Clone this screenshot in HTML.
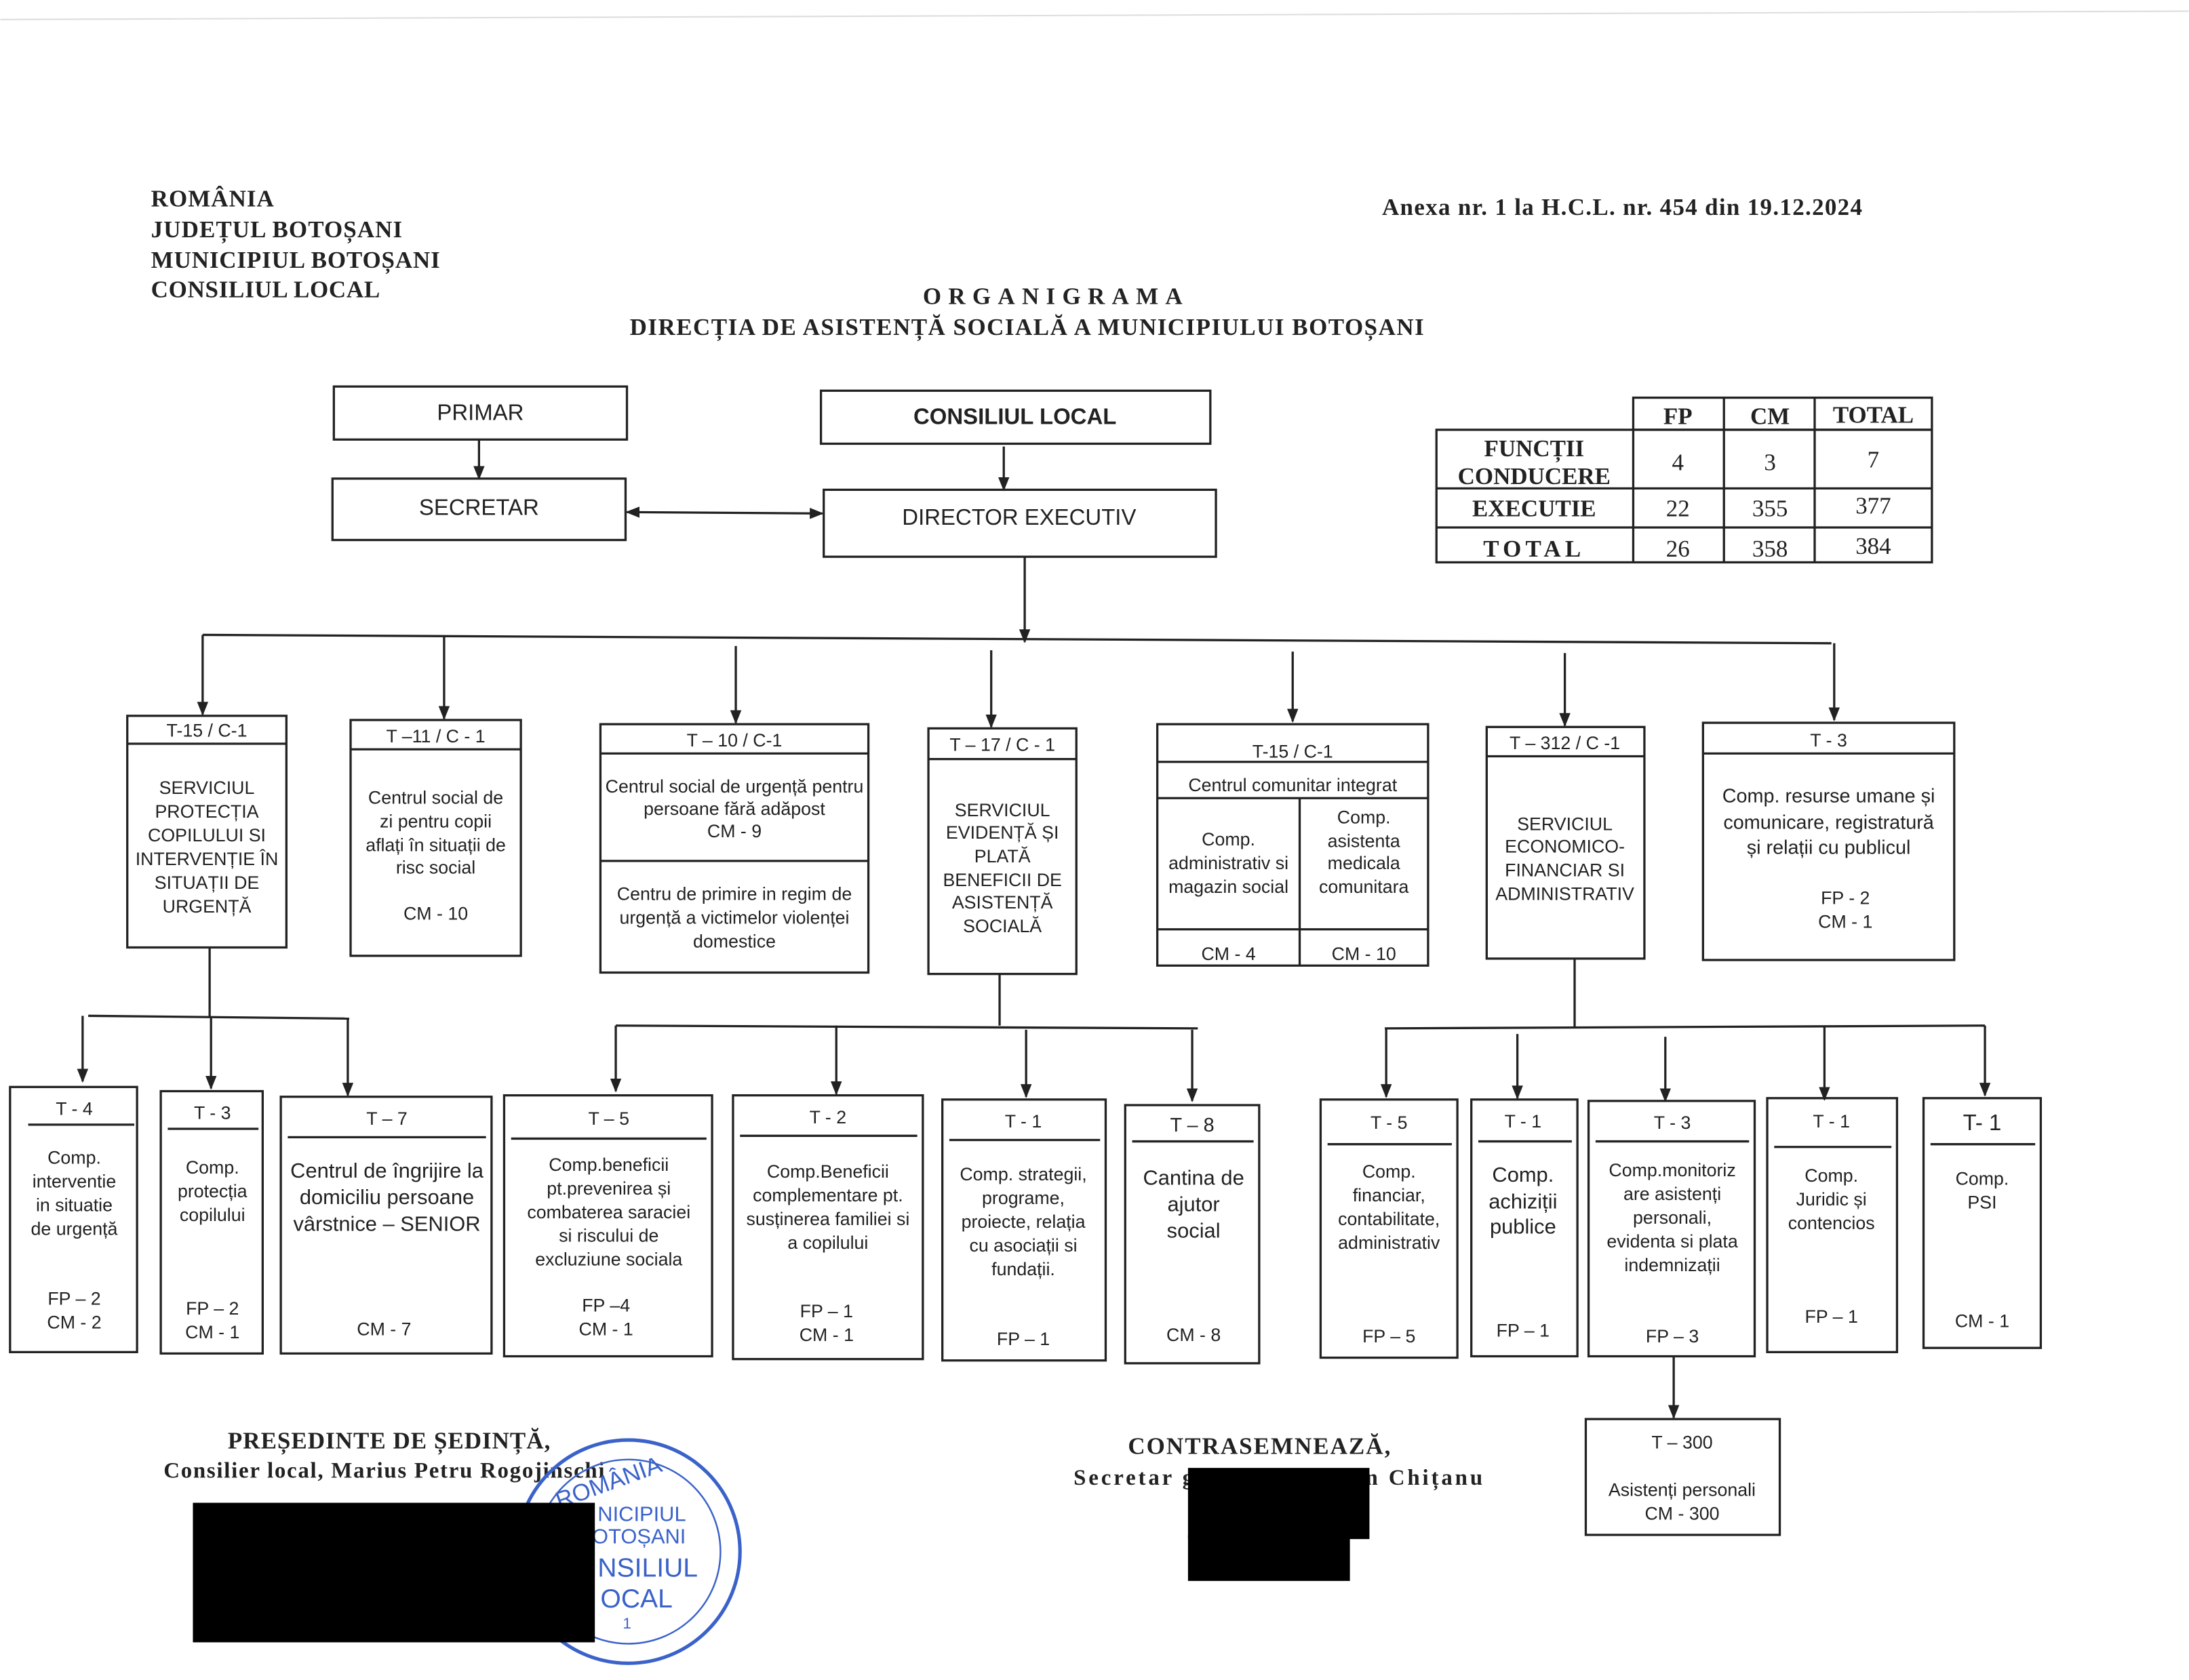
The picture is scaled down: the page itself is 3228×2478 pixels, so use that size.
<!DOCTYPE html>
<html><head><meta charset="utf-8"><style>
html,body{margin:0;padding:0;background:#fff;}
svg{display:block;}
text{font-family:"Liberation Sans",sans-serif;fill:#222;}
.s{font-family:"Liberation Serif",serif;font-weight:bold;fill:#222;}
.b{fill:none;stroke:#222;stroke-width:1.6;}
.l{stroke:#222;stroke-width:1.6;fill:none;}
</style></head><body>
<svg width="3228" height="2478" viewBox="0 0 1568 1204" xmlns="http://www.w3.org/2000/svg">
<defs><marker id="a" markerWidth="10" markerHeight="10" refX="9" refY="5" orient="auto" markerUnits="userSpaceOnUse"><path d="M0,1 L10,5 L0,9 z" fill="#222"/></marker>
<marker id="as" markerWidth="10" markerHeight="10" refX="1" refY="5" orient="auto" markerUnits="userSpaceOnUse"><path d="M10,1 L0,5 L10,9 z" fill="#222"/></marker></defs>
<rect width="1568" height="1204" fill="#fff"/>
<line x1="0" y1="14" x2="1568" y2="8" stroke="#ddd" stroke-width="1"/>
<!-- header -->
<g class="s" font-size="17">
<text x="108" y="148" class="s" textLength="88">ROMÂNIA</text>
<text x="108" y="170" class="s" textLength="180">JUDEȚUL BOTOȘANI</text>
<text x="108" y="192" class="s" textLength="207">MUNICIPIUL BOTOȘANI</text>
<text x="108" y="213" class="s" textLength="164">CONSILIUL LOCAL</text>
<text x="990" y="154" class="s" textLength="344">Anexa nr. 1 la H.C.L. nr. 454 din 19.12.2024</text>
<text x="661" y="218" class="s" letter-spacing="4" textLength="190">ORGANIGRAMA</text>
<text x="451" y="240" class="s" textLength="569">DIRECȚIA DE ASISTENȚĂ SOCIALĂ A MUNICIPIULUI BOTOȘANI</text>
</g>
<!-- top boxes -->
<rect x="239" y="277" width="210" height="38" class="b"/><text x="344" y="301" text-anchor="middle" font-size="16">PRIMAR</text>
<rect x="238" y="343" width="210" height="44" class="b"/><text x="343" y="369" text-anchor="middle" font-size="16">SECRETAR</text>
<rect x="588" y="280" width="279" height="38" class="b"/><text x="727" y="304" text-anchor="middle" font-size="16" font-weight="bold">CONSILIUL LOCAL</text>
<rect x="590" y="351" width="281" height="48" class="b"/><text x="730" y="376" text-anchor="middle" font-size="16">DIRECTOR EXECUTIV</text>
<line x1="343" y1="315" x2="343" y2="343" class="l" marker-end="url(#a)"/>
<line x1="719" y1="320" x2="719" y2="351" class="l" marker-end="url(#a)"/>
<line x1="449" y1="367" x2="589" y2="368" class="l" marker-start="url(#as)" marker-end="url(#a)"/>
<line x1="734" y1="399" x2="734" y2="460" class="l" marker-end="url(#a)"/>
<line x1="145" y1="455" x2="1312" y2="461" class="l"/>
<g class="l">
<line x1="145" y1="455" x2="145" y2="512" marker-end="url(#a)"/>
<line x1="318" y1="456" x2="318" y2="515" marker-end="url(#a)"/>
<line x1="527" y1="463" x2="527" y2="518" marker-end="url(#a)"/>
<line x1="710" y1="466" x2="710" y2="521" marker-end="url(#a)"/>
<line x1="926" y1="467" x2="926" y2="517" marker-end="url(#a)"/>
<line x1="1121" y1="468" x2="1121" y2="520" marker-end="url(#a)"/>
<line x1="1314" y1="461" x2="1314" y2="516" marker-end="url(#a)"/>
</g>
<!-- table -->
<g class="l">
<rect x="1170" y="285" width="214" height="23"/>
<rect x="1029" y="308" width="355" height="95"/>
<line x1="1170" y1="308" x2="1170" y2="403"/><line x1="1235" y1="285" x2="1235" y2="403"/><line x1="1300" y1="285" x2="1300" y2="403"/>
<line x1="1029" y1="350" x2="1384" y2="350"/><line x1="1029" y1="378" x2="1384" y2="378"/>
</g>
<g font-size="17">
<text x="1202" y="304" text-anchor="middle" class="s">FP</text><text x="1268" y="304" text-anchor="middle" class="s">CM</text><text x="1342" y="303" text-anchor="middle" class="s">TOTAL</text>
<text x="1099" y="327" text-anchor="middle" class="s">FUNCȚII</text><text x="1099" y="347" text-anchor="middle" class="s">CONDUCERE</text>
<text x="1099" y="370" text-anchor="middle" class="s">EXECUTIE</text><text x="1099" y="399" text-anchor="middle" class="s" letter-spacing="3">TOTAL</text>
</g>
<g font-size="17">
<text x="1202" y="337" text-anchor="middle" style="font-family:'Liberation Serif'">4</text><text x="1268" y="337" text-anchor="middle" style="font-family:'Liberation Serif'">3</text><text x="1342" y="335" text-anchor="middle" style="font-family:'Liberation Serif'">7</text>
<text x="1202" y="370" text-anchor="middle" style="font-family:'Liberation Serif'">22</text><text x="1268" y="370" text-anchor="middle" style="font-family:'Liberation Serif'">355</text><text x="1342" y="368" text-anchor="middle" style="font-family:'Liberation Serif'">377</text>
<text x="1202" y="399" text-anchor="middle" style="font-family:'Liberation Serif'">26</text><text x="1268" y="399" text-anchor="middle" style="font-family:'Liberation Serif'">358</text><text x="1342" y="397" text-anchor="middle" style="font-family:'Liberation Serif'">384</text>
</g>
<!-- level 2 -->
<g font-size="13">
<rect x="91" y="513" width="114" height="166" class="b"/><line x1="91" y1="533" x2="205" y2="533" class="l"/>
<text x="148" y="528" text-anchor="middle">T-15 / C-1</text>
<text text-anchor="middle"><tspan x="148" y="569">SERVICIUL</tspan><tspan x="148" y="586">PROTECȚIA</tspan><tspan x="148" y="603">COPILULUI SI</tspan><tspan x="148" y="620">INTERVENȚIE ÎN</tspan><tspan x="148" y="637">SITUAȚII DE</tspan><tspan x="148" y="654">URGENȚĂ</tspan></text>

<rect x="251" y="516" width="122" height="169" class="b"/><line x1="251" y1="537" x2="373" y2="537" class="l"/>
<text x="312" y="532" text-anchor="middle">T –11 / C - 1</text>
<text text-anchor="middle"><tspan x="312" y="576">Centrul social de</tspan><tspan x="312" y="593">zi  pentru copii</tspan><tspan x="312" y="610">aflați în situații de</tspan><tspan x="312" y="626">risc social</tspan><tspan x="312" y="659">CM - 10</tspan></text>

<rect x="430" y="519" width="192" height="178" class="b"/><line x1="430" y1="540" x2="622" y2="540" class="l"/><line x1="430" y1="617" x2="622" y2="617" class="l"/>
<text x="526" y="535" text-anchor="middle">T – 10 / C-1</text>
<text text-anchor="middle"><tspan x="526" y="568">Centrul social de urgență pentru</tspan><tspan x="526" y="584">persoane fără adăpost</tspan><tspan x="526" y="600">CM - 9</tspan><tspan x="526" y="645">Centru de primire in regim de</tspan><tspan x="526" y="662">urgență a victimelor violenței</tspan><tspan x="526" y="679">domestice</tspan></text>

<rect x="665" y="522" width="106" height="176" class="b"/><line x1="665" y1="544" x2="771" y2="544" class="l"/>
<text x="718" y="538" text-anchor="middle">T – 17 / C - 1</text>
<text text-anchor="middle"><tspan x="718" y="585">SERVICIUL</tspan><tspan x="718" y="601">EVIDENȚĂ ȘI</tspan><tspan x="718" y="618">PLATĂ</tspan><tspan x="718" y="635">BENEFICII DE</tspan><tspan x="718" y="651">ASISTENȚĂ</tspan><tspan x="718" y="668">SOCIALĂ</tspan></text>

<rect x="829" y="519" width="194" height="173" class="b"/><line x1="829" y1="546" x2="1023" y2="546" class="l"/><line x1="829" y1="572" x2="1023" y2="572" class="l"/><line x1="931" y1="572" x2="931" y2="692" class="l"/><line x1="829" y1="666" x2="1023" y2="666" class="l"/>
<text x="926" y="543" text-anchor="middle">T-15 / C-1</text>
<text x="926" y="567" text-anchor="middle">Centrul comunitar integrat</text>
<text text-anchor="middle"><tspan x="880" y="606">Comp.</tspan><tspan x="880" y="623">administrativ si</tspan><tspan x="880" y="640">magazin social</tspan><tspan x="977" y="590">Comp.</tspan><tspan x="977" y="607">asistenta</tspan><tspan x="977" y="623">medicala</tspan><tspan x="977" y="640">comunitara</tspan><tspan x="880" y="688">CM - 4</tspan><tspan x="977" y="688">CM - 10</tspan></text>

<rect x="1065" y="521" width="113" height="166" class="b"/><line x1="1065" y1="542" x2="1178" y2="542" class="l"/>
<text x="1121" y="537" text-anchor="middle">T – 312 / C -1</text>
<text text-anchor="middle"><tspan x="1121" y="595">SERVICIUL</tspan><tspan x="1121" y="611">ECONOMICO-</tspan><tspan x="1121" y="628">FINANCIAR SI</tspan><tspan x="1121" y="645">ADMINISTRATIV</tspan></text>

<rect x="1220" y="518" width="180" height="170" class="b"/><line x1="1220" y1="540" x2="1400" y2="540" class="l"/>
<text x="1310" y="535" text-anchor="middle">T - 3</text>
<text text-anchor="middle" font-size="14"><tspan x="1310" y="575">Comp. resurse umane și</tspan><tspan x="1310" y="594">comunicare, registratură</tspan><tspan x="1310" y="612">și relații cu publicul</tspan></text>
<text text-anchor="middle"><tspan x="1322" y="648">FP - 2</tspan><tspan x="1322" y="665">CM - 1</tspan></text>
</g>
<!-- connectors level 3 -->
<g class="l">
<line x1="150" y1="679" x2="150" y2="729"/><line x1="63" y1="728" x2="250" y2="730"/>
<line x1="59" y1="728" x2="59" y2="775" marker-end="url(#a)"/><line x1="151" y1="729" x2="151" y2="780" marker-end="url(#a)"/><line x1="249" y1="730" x2="249" y2="785" marker-end="url(#a)"/>
<line x1="716" y1="698" x2="716" y2="735"/><line x1="441" y1="735" x2="858" y2="737"/>
<line x1="441" y1="735" x2="441" y2="782" marker-end="url(#a)"/><line x1="599" y1="735" x2="599" y2="784" marker-end="url(#a)"/><line x1="735" y1="738" x2="735" y2="786" marker-end="url(#a)"/><line x1="854" y1="738" x2="854" y2="789" marker-end="url(#a)"/>
<line x1="1128" y1="687" x2="1128" y2="737"/><line x1="992" y1="737" x2="1422" y2="735"/>
<line x1="993" y1="737" x2="993" y2="786" marker-end="url(#a)"/><line x1="1087" y1="741" x2="1087" y2="787" marker-end="url(#a)"/><line x1="1193" y1="743" x2="1193" y2="789" marker-end="url(#a)"/><line x1="1307" y1="736" x2="1307" y2="788" marker-end="url(#a)"/><line x1="1422" y1="735" x2="1422" y2="785" marker-end="url(#a)"/>
<line x1="1199" y1="972" x2="1199" y2="1016" marker-end="url(#a)"/>
</g>
<!-- level 3 boxes -->
<g font-size="13">
<rect x="7" y="779" width="91" height="190" class="b"/><line x1="20" y1="806" x2="96" y2="806" class="l"/>
<text x="53" y="799" text-anchor="middle">T - 4</text>
<text text-anchor="middle"><tspan x="53" y="834">Comp.</tspan><tspan x="53" y="851">interventie</tspan><tspan x="53" y="868">in situatie</tspan><tspan x="53" y="885">de urgență</tspan><tspan x="53" y="935">FP – 2</tspan><tspan x="53" y="952">CM - 2</tspan></text>

<rect x="115" y="782" width="73" height="188" class="b"/><line x1="120" y1="809" x2="185" y2="809" class="l"/>
<text x="152" y="802" text-anchor="middle">T - 3</text>
<text text-anchor="middle"><tspan x="152" y="841">Comp.</tspan><tspan x="152" y="858">protecția</tspan><tspan x="152" y="875">copilului</tspan><tspan x="152" y="942">FP – 2</tspan><tspan x="152" y="959">CM - 1</tspan></text>

<rect x="201" y="786" width="151" height="184" class="b"/><line x1="206" y1="815" x2="348" y2="815" class="l"/>
<text x="277" y="806" text-anchor="middle">T – 7</text>
<text text-anchor="middle" font-size="15"><tspan x="277" y="844">Centrul de îngrijire la</tspan><tspan x="277" y="863">domiciliu  persoane</tspan><tspan x="277" y="882">vârstnice – SENIOR</tspan></text>
<text x="275" y="957" text-anchor="middle">CM - 7</text>

<rect x="361" y="785" width="149" height="187" class="b"/><line x1="366" y1="816" x2="506" y2="816" class="l"/>
<text x="436" y="806" text-anchor="middle">T – 5</text>
<text text-anchor="middle"><tspan x="436" y="839">Comp.beneficii</tspan><tspan x="436" y="856">pt.prevenirea și</tspan><tspan x="436" y="873">combaterea saraciei</tspan><tspan x="436" y="890">si riscului de</tspan><tspan x="436" y="907">excluziune sociala</tspan><tspan x="434" y="940">FP –4</tspan><tspan x="434" y="957">CM - 1</tspan></text>

<rect x="525" y="785" width="136" height="189" class="b"/><line x1="530" y1="814" x2="657" y2="814" class="l"/>
<text x="593" y="805" text-anchor="middle">T - 2</text>
<text text-anchor="middle"><tspan x="593" y="844">Comp.Beneficii</tspan><tspan x="593" y="861">complementare  pt.</tspan><tspan x="593" y="878">susținerea familiei si</tspan><tspan x="593" y="895">a copilului</tspan><tspan x="592" y="944">FP – 1</tspan><tspan x="592" y="961">CM - 1</tspan></text>

<rect x="675" y="788" width="117" height="187" class="b"/><line x1="680" y1="817" x2="788" y2="817" class="l"/>
<text x="733" y="808" text-anchor="middle">T - 1</text>
<text text-anchor="middle"><tspan x="733" y="846">Comp. strategii,</tspan><tspan x="733" y="863">programe,</tspan><tspan x="733" y="880">proiecte, relația</tspan><tspan x="733" y="897">cu asociații si</tspan><tspan x="733" y="914">fundații.</tspan><tspan x="733" y="964">FP – 1</tspan></text>

<rect x="806" y="792" width="96" height="185" class="b"/><line x1="811" y1="818" x2="898" y2="818" class="l"/>
<text x="854" y="811" text-anchor="middle" font-size="14">T – 8</text>
<text text-anchor="middle" font-size="15"><tspan x="855" y="849">Cantina de</tspan><tspan x="855" y="868">ajutor</tspan><tspan x="855" y="887">social</tspan></text>
<text x="855" y="961" text-anchor="middle">CM - 8</text>

<rect x="946" y="788" width="98" height="185" class="b"/><line x1="951" y1="820" x2="1040" y2="820" class="l"/>
<text x="995" y="809" text-anchor="middle">T - 5</text>
<text text-anchor="middle"><tspan x="995" y="844">Comp.</tspan><tspan x="995" y="861">financiar,</tspan><tspan x="995" y="878">contabilitate,</tspan><tspan x="995" y="895">administrativ</tspan><tspan x="995" y="962">FP – 5</tspan></text>

<rect x="1054" y="788" width="76" height="184" class="b"/><line x1="1059" y1="818" x2="1126" y2="818" class="l"/>
<text x="1091" y="808" text-anchor="middle">T - 1</text>
<text text-anchor="middle" font-size="15"><tspan x="1091" y="847">Comp.</tspan><tspan x="1091" y="866">achiziții</tspan><tspan x="1091" y="884">publice</tspan></text>
<text x="1091" y="958" text-anchor="middle">FP – 1</text>

<rect x="1138" y="789" width="119" height="183" class="b"/><line x1="1143" y1="818" x2="1253" y2="818" class="l"/>
<text x="1198" y="809" text-anchor="middle">T - 3</text>
<text text-anchor="middle"><tspan x="1198" y="843">Comp.monitoriz</tspan><tspan x="1198" y="860">are asistenți</tspan><tspan x="1198" y="877">personali,</tspan><tspan x="1198" y="894">evidenta si plata</tspan><tspan x="1198" y="911">indemnizații</tspan><tspan x="1198" y="962">FP – 3</tspan></text>

<rect x="1266" y="787" width="93" height="182" class="b"/><line x1="1271" y1="822" x2="1355" y2="822" class="l"/>
<text x="1312" y="808" text-anchor="middle">T - 1</text>
<text text-anchor="middle"><tspan x="1312" y="847">Comp.</tspan><tspan x="1312" y="864">Juridic și</tspan><tspan x="1312" y="881">contencios</tspan><tspan x="1312" y="948">FP – 1</tspan></text>

<rect x="1378" y="787" width="84" height="179" class="b"/><line x1="1383" y1="820" x2="1458" y2="820" class="l"/>
<text x="1420" y="810" text-anchor="middle" font-size="16">T- 1</text>
<text text-anchor="middle"><tspan x="1420" y="849">Comp.</tspan><tspan x="1420" y="866">PSI</tspan><tspan x="1420" y="951">CM - 1</tspan></text>

<rect x="1136" y="1017" width="139" height="83" class="b"/>
<text text-anchor="middle"><tspan x="1205" y="1038">T – 300</tspan><tspan x="1205" y="1072">Asistenți personali</tspan><tspan x="1205" y="1089">CM - 300</tspan></text>
</g>
<!-- footer -->
<g font-size="17">
<text x="163" y="1038" class="s" textLength="231">PREȘEDINTE DE ȘEDINȚĂ,</text>
<text x="117" y="1059" class="s" font-size="16" textLength="316">Consilier local, Marius Petru Rogojinschi</text>
<text x="808" y="1042" class="s" textLength="188">CONTRASEMNEAZĂ,</text>
<text x="769" y="1064" class="s" font-size="16" textLength="293">Secretar general, Ciprian Chițanu</text>
</g>
<circle cx="450" cy="1112" r="80" fill="none" stroke="#3a62c9" stroke-width="2.5"/>
<circle cx="450" cy="1112" r="66" fill="none" stroke="#3a62c9" stroke-width="1.2"/>
<g font-size="15"><text x="428" y="1090" style="fill:#3a62c9">NICIPIUL</text><text x="424" y="1106" style="fill:#3a62c9">OTOȘANI</text><text x="428" y="1130" style="fill:#3a62c9" font-size="19">NSILIUL</text><text x="430" y="1152" style="fill:#3a62c9" font-size="19">OCAL</text><text x="446" y="1167" style="fill:#3a62c9" font-size="11">1</text><text x="395" y="1070" style="fill:#3a62c9" font-size="17" transform="rotate(-20 430 1060)">ROMÂNIA</text></g>
<rect x="138" y="1077" width="288" height="100" fill="#000"/>
<rect x="851" y="1052" width="130" height="51" fill="#000"/>
<rect x="851" y="1100" width="116" height="33" fill="#000"/>
</svg>
</body></html>
